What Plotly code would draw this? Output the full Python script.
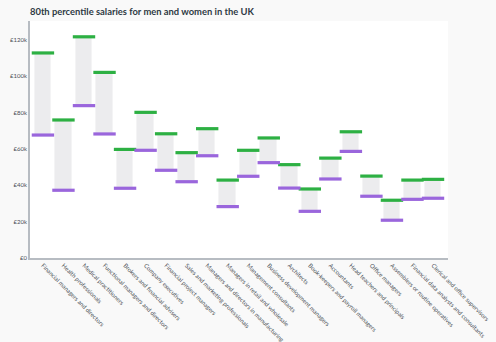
import plotly.graph_objects as go

occupations = [
    "Financial managers and directors",
    "Health professionals",
    "Medical practitioners",
    "Functional managers and directors",
    "Brokers and financial advisers",
    "Company executives",
    "Financial project managers",
    "Sales and marketing professionals",
    "Managers and directors in manufacturing",
    "Managers in retail and wholesale",
    "Management consultants",
    "Business development managers",
    "Architects",
    "Book-keepers and payroll managers",
    "Accountants",
    "Head teachers and principals",
    "Office managers",
    "Assemblers or routine operatives",
    "Financial data analysts and consultants",
    "Clerical and office supervisors",
]

men_p80 = [112900, 76000, 121800, 102200, 59800, 80200, 68400, 58000, 71200, 42900,
           59300, 66100, 51400, 38000, 55000, 69500, 45100, 31800, 42900, 43300]
women_p80 = [67700, 37300, 83900, 68300, 38400, 59300, 48300, 42000, 56300, 28300,
             45000, 52500, 38500, 25700, 43500, 58700, 34000, 20800, 32300, 32900]

y_ticks = [0, 20000, 40000, 60000, 80000, 100000, 120000]
y_tick_labels = ["£0", "£20k", "£40k", "£60k", "£80k", "£100k", "£120k"]

FONT = "Lato"
GREEN = "#2db043"
PURPLE = "#9a66dc"

gap = [m - w for m, w in zip(men_p80, women_p80)]

fig = go.Figure()

# grey band between women's and men's 80th percentile
fig.add_trace(go.Bar(
    x=occupations, y=gap, base=women_p80,
    width=0.81,
    marker=dict(color="#ececee", line=dict(color="#f4f4f5", width=1)),
    hoverinfo="skip", showlegend=False,
))

# men (top) and women (bottom) markers
fig.add_trace(go.Scatter(
    x=occupations, y=men_p80, mode="markers", name="Men",
    marker=dict(symbol="line-ew", size=16, line=dict(color=GREEN, width=3.2)),
    showlegend=False,
))
fig.add_trace(go.Scatter(
    x=occupations, y=women_p80, mode="markers", name="Women",
    marker=dict(symbol="line-ew", size=16, line=dict(color=PURPLE, width=3.2)),
    showlegend=False,
))

fig.update_layout(
    width=496, height=342,
    margin=dict(l=30, r=48, t=21, b=84),
    paper_bgcolor="#f9f9f9",
    plot_bgcolor="#ffffff",
    font=dict(family=FONT, color="#4a4f55"),
    title=dict(
        text="<b>80th percentile salaries for men and women in the UK</b>",
        x=30 / 496, xanchor="left", y=1 - 12 / 342, yanchor="middle",
        font=dict(family=FONT, size=9.4, color="#2e3a44"),
    ),
    bargap=0,
    xaxis=dict(
        type="category", range=[-0.63, 19.73], automargin=False,
        tickangle=45, tickfont=dict(size=6, color="#4a4f55"),
        showline=True, linecolor="#b7bcc2", linewidth=1.5,
        showgrid=False, ticks="", ticklen=0,
    ),
    yaxis=dict(
        range=[0, 130500], automargin=False,
        tickvals=y_ticks, ticktext=y_tick_labels,
        tickfont=dict(size=6, color="#4a4f55"),
        showline=True, linecolor="#b7bcc2", linewidth=1.5,
        showgrid=False, zeroline=False, ticks="",
    ),
)

fig.write_html("out.html")
